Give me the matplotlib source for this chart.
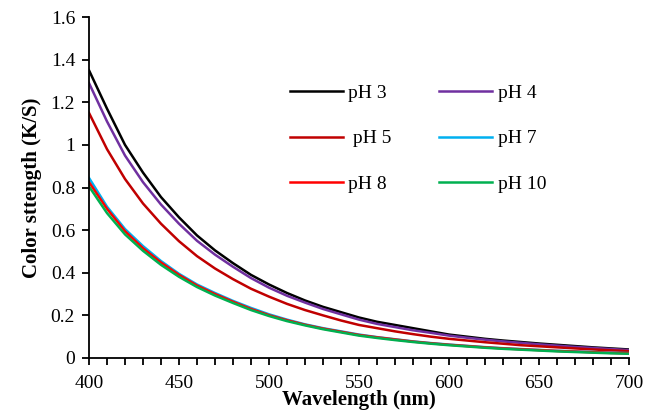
import matplotlib.pyplot as plt
from matplotlib.ticker import MultipleLocator, FuncFormatter

plt.rcParams['font.family'] = ['Liberation Serif', 'DejaVu Serif']

# wavelength (nm)
wl = list(range(400, 701, 10))

# K/S values for each dye bath pH
ph3 = [1.35, 1.17, 1.00, 0.87, 0.755, 0.66, 0.575, 0.505, 0.445, 0.39, 0.345, 0.305, 0.27, 0.24, 0.215, 0.19,
       0.17, 0.155, 0.14, 0.125, 0.11, 0.10, 0.09, 0.082, 0.075, 0.068, 0.062, 0.056, 0.05, 0.045, 0.04]
ph4 = [1.29, 1.11, 0.95, 0.825, 0.72, 0.63, 0.55, 0.485, 0.428, 0.375, 0.33, 0.292, 0.26, 0.23, 0.205, 0.18,
       0.16, 0.145, 0.13, 0.118, 0.105, 0.095, 0.086, 0.078, 0.071, 0.064, 0.058, 0.052, 0.047, 0.042, 0.037]
ph5 = [1.15, 0.98, 0.84, 0.725, 0.63, 0.548, 0.478, 0.42, 0.37, 0.325, 0.288, 0.254, 0.225, 0.20, 0.176, 0.155,
       0.14, 0.125, 0.112, 0.10, 0.09, 0.082, 0.074, 0.067, 0.06, 0.055, 0.05, 0.045, 0.04, 0.036, 0.032]
ph7 = [0.845, 0.71, 0.605, 0.525, 0.455, 0.395, 0.345, 0.305, 0.268, 0.235, 0.205, 0.18, 0.158, 0.14, 0.125, 0.11,
       0.098, 0.088, 0.078, 0.07, 0.063, 0.057, 0.051, 0.046, 0.042, 0.038, 0.034, 0.031, 0.028, 0.025, 0.023]
ph8 = [0.825, 0.70, 0.595, 0.515, 0.448, 0.39, 0.34, 0.30, 0.264, 0.23, 0.201, 0.177, 0.156, 0.138, 0.123, 0.108,
       0.097, 0.087, 0.077, 0.069, 0.062, 0.056, 0.05, 0.045, 0.041, 0.037, 0.033, 0.03, 0.027, 0.024, 0.022]
ph10 = [0.805, 0.68, 0.58, 0.503, 0.437, 0.381, 0.333, 0.293, 0.258, 0.225, 0.197, 0.173, 0.153, 0.135, 0.12, 0.105,
        0.094, 0.084, 0.075, 0.067, 0.06, 0.054, 0.048, 0.043, 0.039, 0.035, 0.031, 0.028, 0.025, 0.022, 0.02]

fig = plt.figure(figsize=(6.59, 4.17), dpi=100)
ax = fig.add_axes([89 / 659, 1 - 358 / 417, 540 / 659, 341 / 417])

lw = 1.8
l3, = ax.plot(wl, ph3, color='black', lw=lw, label='pH 3')
l4, = ax.plot(wl, ph4, color='#7030A0', lw=lw, label='pH 4')
l5, = ax.plot(wl, ph5, color='#C00000', lw=lw, label=' pH 5')
l7, = ax.plot(wl, ph7, color='#00B0F0', lw=lw, label='pH 7')
l8, = ax.plot(wl, ph8, color='#FF0000', lw=lw, label='pH 8')
l10, = ax.plot(wl, ph10, color='#00B050', lw=lw, label='pH 10')

ax.set_xlim(400, 700)
ax.set_ylim(0, 1.6)
ax.xaxis.set_major_locator(MultipleLocator(50))
ax.xaxis.set_minor_locator(MultipleLocator(10))
ax.yaxis.set_major_locator(MultipleLocator(0.2))
ax.yaxis.set_major_formatter(FuncFormatter(lambda v, p: f'{v:.1f}'.rstrip('0').rstrip('.')))

for s in ['top', 'right']:
    ax.spines[s].set_visible(False)
for s in ['left', 'bottom']:
    ax.spines[s].set_linewidth(1.3)
ax.tick_params(axis='both', which='both', direction='out', length=5, width=1.3, labelsize=14)
ax.tick_params(axis='x', pad=7)
ax.tick_params(axis='y', pad=5)

ax.set_xlabel('Wavelength (nm)', fontsize=15, fontweight='bold', labelpad=-1)
ax.set_ylabel('Color sttength (K/S)', fontsize=15, fontweight='bold', labelpad=6)

ax.legend(handles=[l3, l5, l8, l4, l7, l10], ncol=2, frameon=False, fontsize=14,
          loc='upper left', bbox_to_anchor=(0.34, 0.855),
          handlelength=2.7, handletextpad=0.3, labelspacing=1.45, columnspacing=2.45)

fig.savefig('out.png', dpi=100)
